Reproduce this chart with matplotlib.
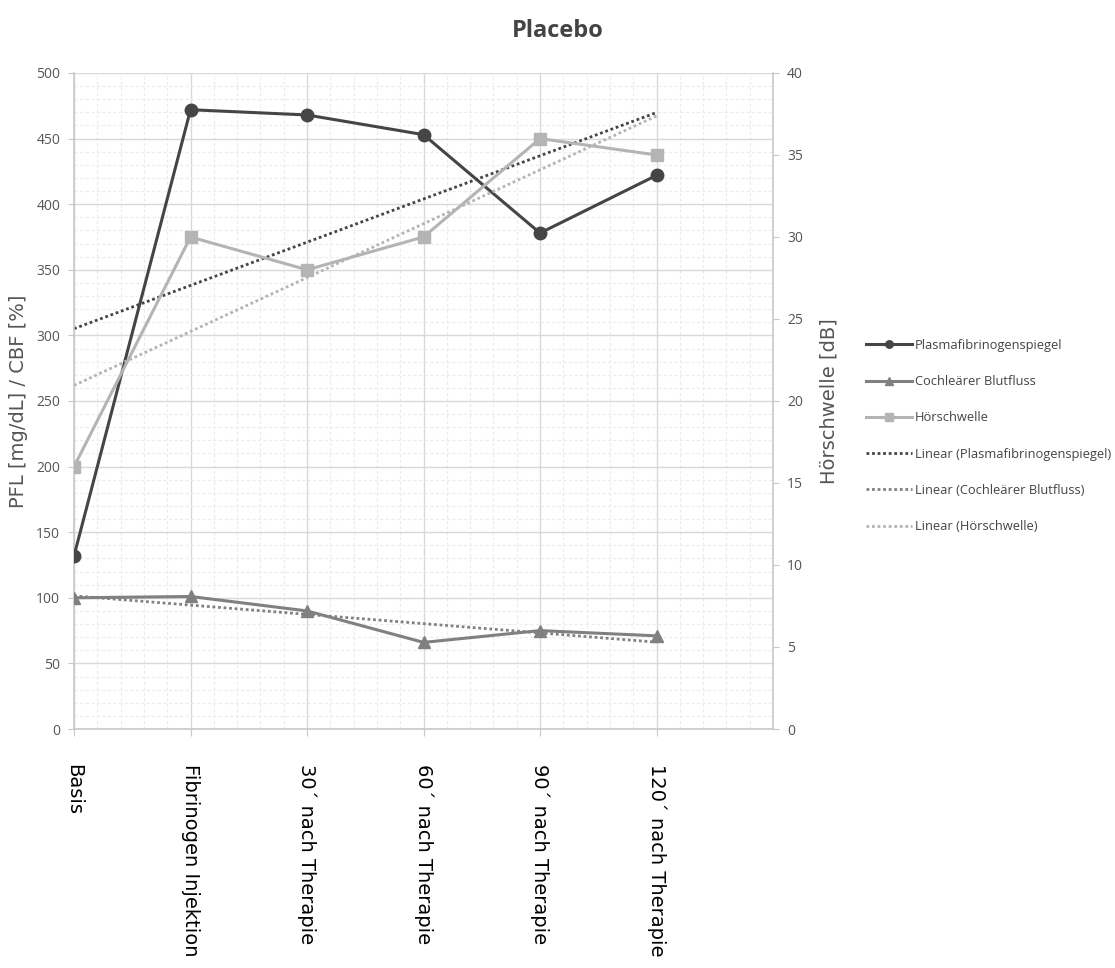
import numpy as np
import matplotlib
matplotlib.use("Agg")
import matplotlib.pyplot as plt
from matplotlib.ticker import MultipleLocator

plt.rcParams["font.family"] = ["Open Sans", "DejaVu Sans"]

categories = [
    "Basis",
    "Fibrinogen Injektion",
    "30´ nach Therapie",
    "60´ nach Therapie",
    "90´ nach Therapie",
    "120´ nach Therapie",
]
plasmafibrinogen = [132, 472, 468, 453, 378, 422]
cochlear_blutfluss = [100, 101, 90, 66, 75, 71]
hoerschwelle = [16, 30, 28, 30, 36, 35]

c_pfl = "#454545"
c_cbf = "#808080"
c_hs = "#b4b4b4"

x = np.arange(len(categories))


def trend(values):
    k, d = np.polyfit(x, values, 1)
    return k * x + d


fig = plt.figure(figsize=(11.15, 9.68), dpi=100)
ax = fig.add_axes([0.0664, 0.2469, 0.6269, 0.6777])
ax2 = ax.twinx()

ax.set_xlim(0, 6)
ax.set_ylim(0, 500)
ax2.set_ylim(0, 40)

ax.yaxis.set_major_locator(MultipleLocator(50))
ax.yaxis.set_minor_locator(MultipleLocator(10))
ax2.yaxis.set_major_locator(MultipleLocator(5))
ax.set_xticks(x)
ax.xaxis.set_minor_locator(MultipleLocator(0.2))

ax.grid(which="major", color="#d9d9d9", linewidth=1.0)
ax.grid(which="minor", color="#ececec", linewidth=0.8, linestyle=(0, (3, 2)))
ax.set_axisbelow(True)

l1, = ax.plot(x, plasmafibrinogen, color=c_pfl, linewidth=2.2, marker="o", markersize=9,
              label="Plasmafibrinogenspiegel", zorder=5)
l2, = ax.plot(x, cochlear_blutfluss, color=c_cbf, linewidth=2.2, marker="^", markersize=9,
              label="Cochleärer Blutfluss", zorder=5)
l3, = ax2.plot(x, hoerschwelle, color=c_hs, linewidth=2.2, marker="s", markersize=9,
               label="Hörschwelle", zorder=5)
t1, = ax.plot(x, trend(plasmafibrinogen), color=c_pfl, linewidth=2.0, linestyle=(0, (1, 1)),
              label="Linear (Plasmafibrinogenspiegel)")
t2, = ax.plot(x, trend(cochlear_blutfluss), color=c_cbf, linewidth=2.0, linestyle=(0, (1, 1)),
              label="Linear (Cochleärer Blutfluss)")
t3, = ax2.plot(x, trend(hoerschwelle), color=c_hs, linewidth=2.0, linestyle=(0, (1, 1)),
               label="Linear (Hörschwelle)")

for a in (ax, ax2):
    for s in a.spines.values():
        s.set_visible(False)
ax.spines["left"].set_visible(True)
ax.spines["bottom"].set_visible(True)
ax2.spines["right"].set_visible(True)
for s in (ax.spines["left"], ax.spines["bottom"], ax2.spines["right"]):
    s.set_color("#c8c8c8")
    s.set_linewidth(1.2)

ax.tick_params(axis="y", which="major", colors="#c8c8c8", labelcolor="#555555",
               labelsize=10, length=4, pad=6)
ax.tick_params(axis="y", which="minor", length=0)
ax.tick_params(axis="x", which="major", colors="#c8c8c8", labelcolor="black",
               length=5, pad=20)
ax.tick_params(axis="x", which="minor", length=0)
ax2.tick_params(axis="y", colors="#c8c8c8", labelcolor="#555555", labelsize=10,
                length=4, pad=6)

ax.set_xticklabels(categories, rotation=270, fontsize=14, family=["DejaVu Sans"],
                   ha="center", va="top")

ax.set_ylabel("PFL [mg/dL] / CBF [%]", fontsize=14, color="#555555", labelpad=6,
              family=["DejaVu Sans"])
ax2.set_ylabel("Hörschwelle [dB]", fontsize=14, color="#555555", labelpad=12,
               rotation=90, family=["DejaVu Sans"])

fig.text(0.5, 0.968, "Placebo", fontsize=17, fontweight="bold", color="#444444",
         ha="center", va="center")

leg = fig.legend(handles=[l1, l2, l3, t1, t2, t3], loc="center left",
                 bbox_to_anchor=(0.766, 0.5496), frameon=False, fontsize=9.3,
                 labelcolor="#444444", handlelength=3.6, handletextpad=0.2,
                 labelspacing=1.8, markerscale=0.6)

fig.savefig("out.png", dpi=100)
